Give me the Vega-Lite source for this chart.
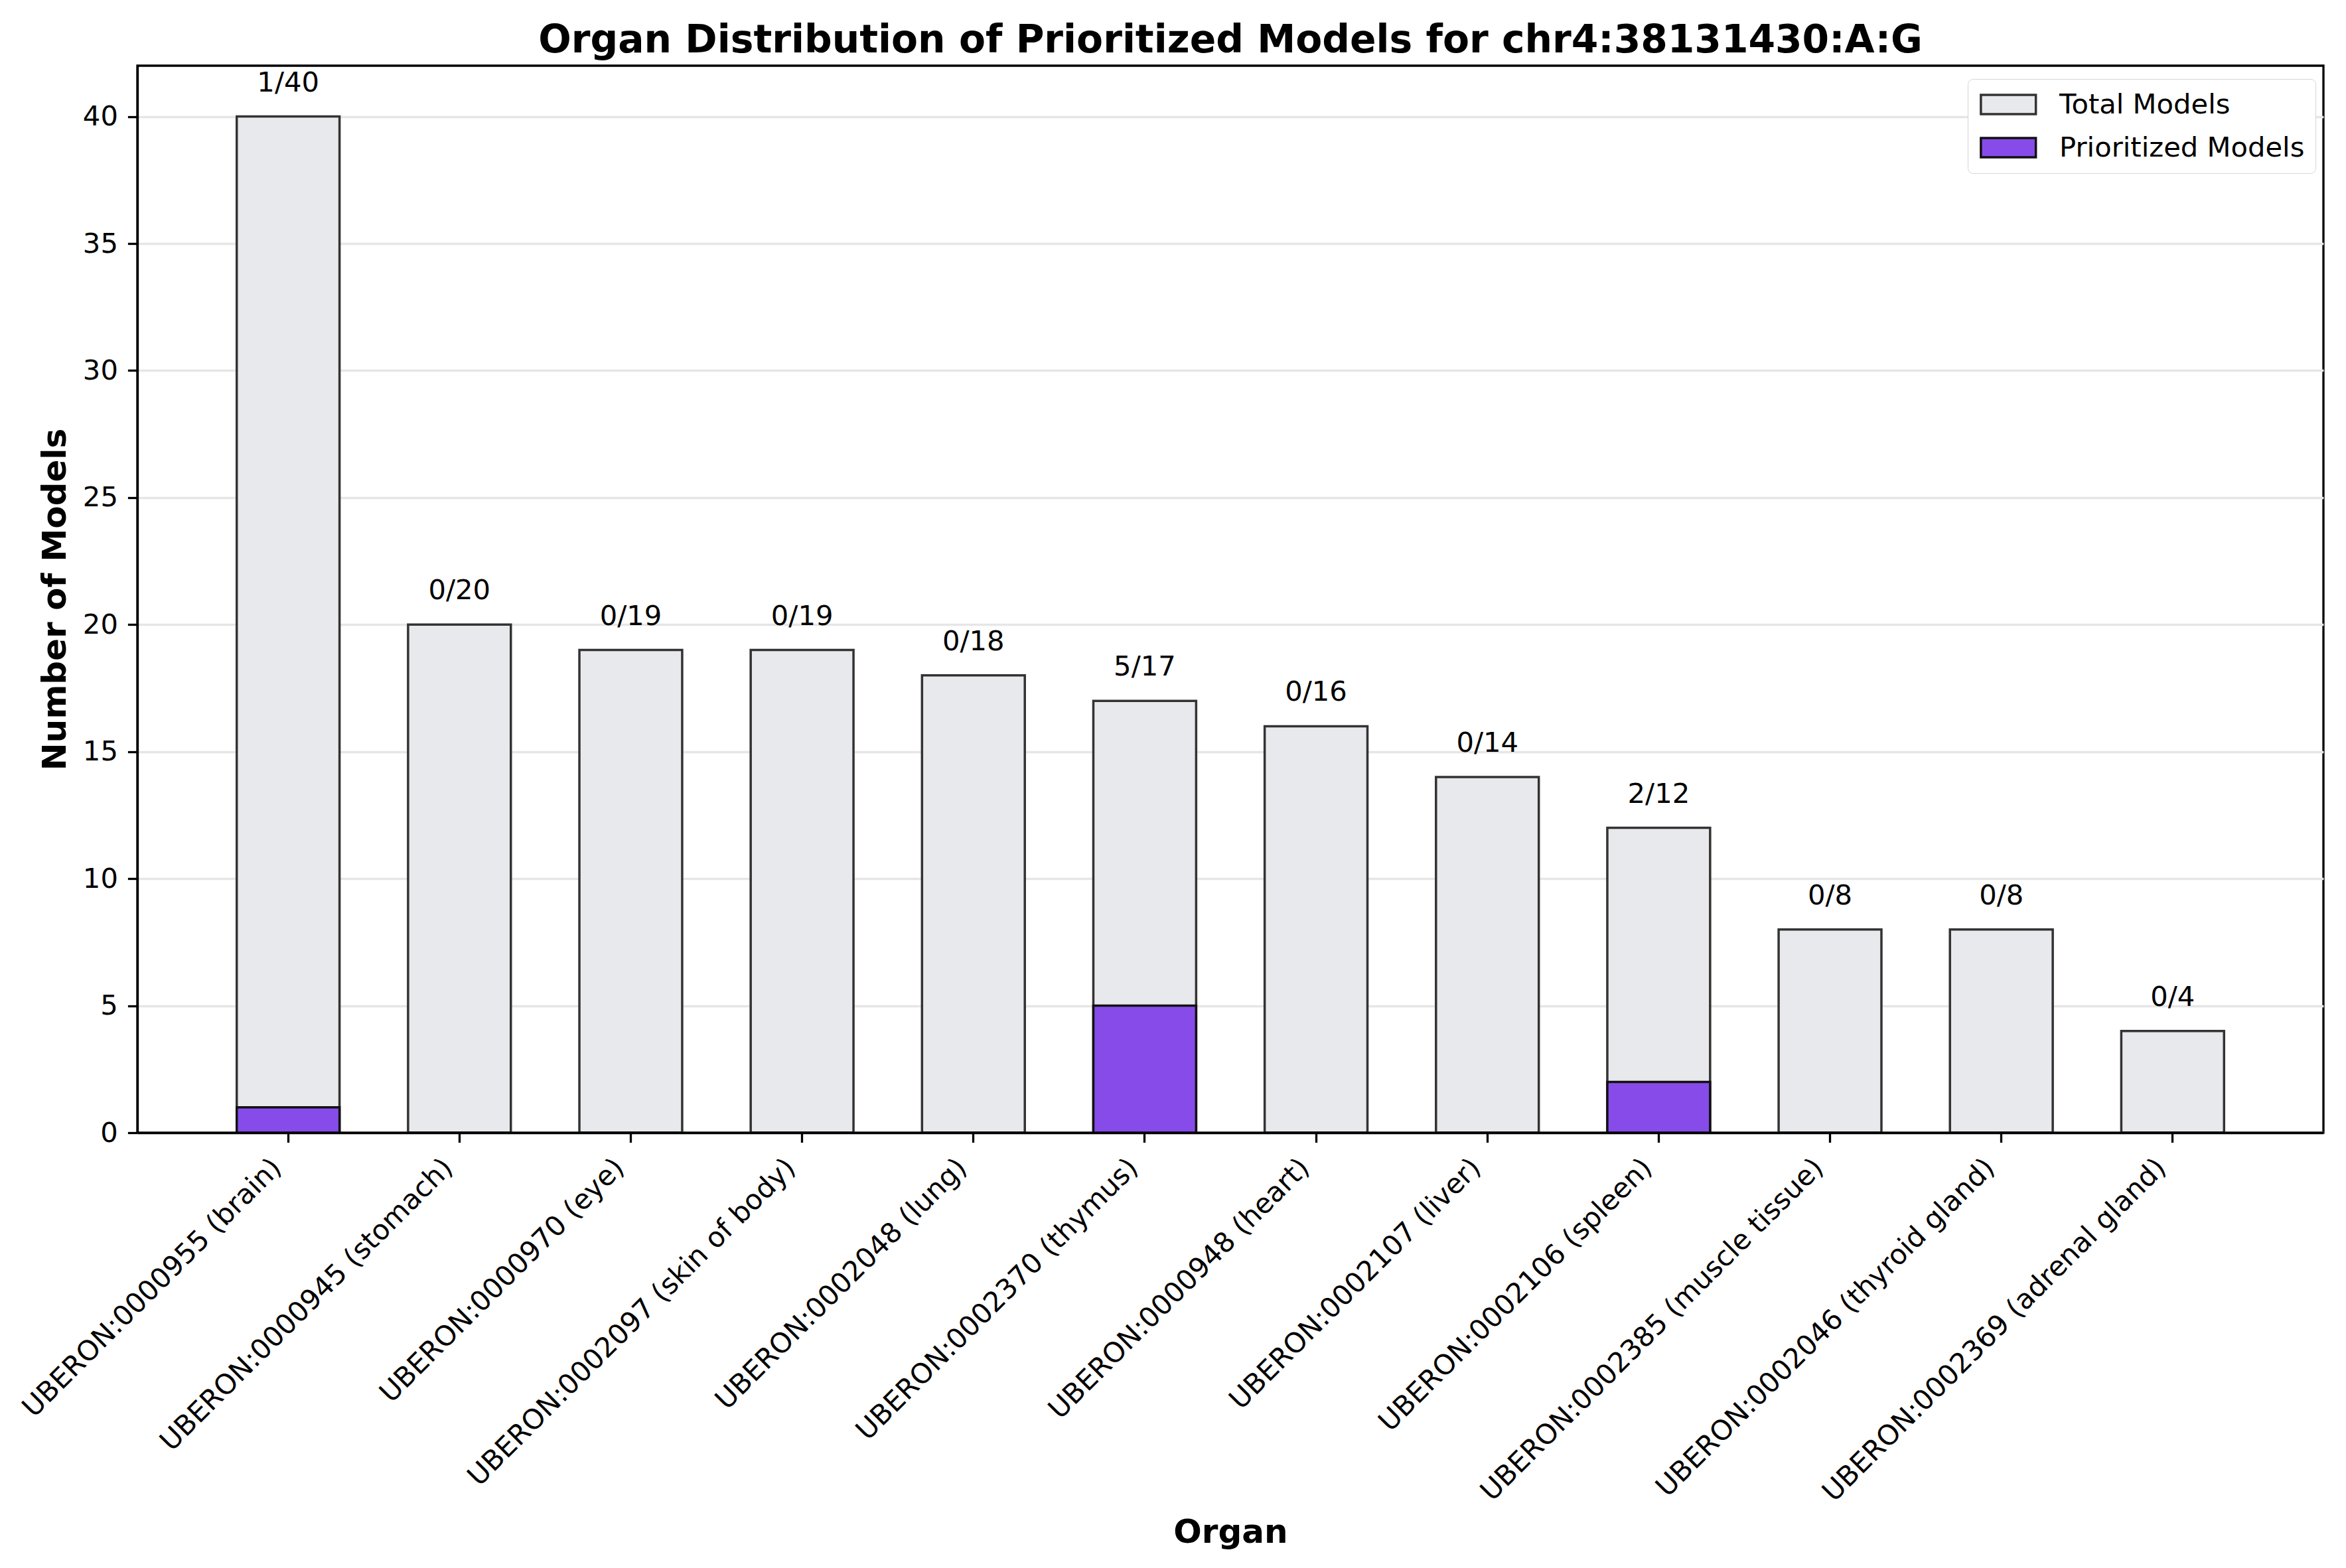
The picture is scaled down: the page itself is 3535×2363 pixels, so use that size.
{
  "$schema": "https://vega.github.io/schema/vega-lite/v6.json",
  "width": 3294,
  "height": 1608,
  "autosize": {"type": "none"},
  "padding": {"left": 207, "top": 99, "right": 34, "bottom": 656},
  "background": "white",
  "title": {
    "text": "Organ Distribution of Prioritized Models for chr4:38131430:A:G",
    "fontSize": 58.3,
    "fontWeight": "bold",
    "font": "DejaVu Sans",
    "color": "black",
    "anchor": "middle",
    "frame": "group",
    "baseline": "alphabetic",
    "offset": 13,
    "dy": 51
  },
  "config": {
    "font": "DejaVu Sans",
    "view": {"stroke": "black", "strokeWidth": 3.3},
    "axis": {
      "labelFont": "DejaVu Sans",
      "titleFont": "DejaVu Sans",
      "labelColor": "black",
      "titleColor": "black",
      "domainColor": "black",
      "tickColor": "black"
    },
    "legend": {
      "symbolType": "M-0.9,-0.7H3.1V0.7H-0.9Z",
      "symbolSize": 1714,
      "symbolStrokeWidth": 3.5,
      "symbolOpacity": 1,
      "labelFontSize": 41.7,
      "labelFont": "DejaVu Sans",
      "labelColor": "black",
      "labelOffset": 77,
      "labelLimit": 2000,
      "rowPadding": 20,
      "padding": 16,
      "fillColor": "white",
      "strokeColor": "#d5d5d5",
      "cornerRadius": 8
    }
  },
  "data": {
    "values": [
      {"organ": "UBERON:0000955 (brain)", "total": 40, "prioritized": 1, "label": "1/40"},
      {"organ": "UBERON:0000945 (stomach)", "total": 20, "prioritized": 0, "label": "0/20"},
      {"organ": "UBERON:0000970 (eye)", "total": 19, "prioritized": 0, "label": "0/19"},
      {"organ": "UBERON:0002097 (skin of body)", "total": 19, "prioritized": 0, "label": "0/19"},
      {"organ": "UBERON:0002048 (lung)", "total": 18, "prioritized": 0, "label": "0/18"},
      {"organ": "UBERON:0002370 (thymus)", "total": 17, "prioritized": 5, "label": "5/17"},
      {"organ": "UBERON:0000948 (heart)", "total": 16, "prioritized": 0, "label": "0/16"},
      {"organ": "UBERON:0002107 (liver)", "total": 14, "prioritized": 0, "label": "0/14"},
      {"organ": "UBERON:0002106 (spleen)", "total": 12, "prioritized": 2, "label": "2/12"},
      {"organ": "UBERON:0002385 (muscle tissue)", "total": 8, "prioritized": 0, "label": "0/8"},
      {"organ": "UBERON:0002046 (thyroid gland)", "total": 8, "prioritized": 0, "label": "0/8"},
      {"organ": "UBERON:0002369 (adrenal gland)", "total": 4, "prioritized": 0, "label": "0/4"}
    ]
  },
  "encoding": {
    "x": {
      "field": "organ",
      "type": "nominal",
      "sort": null,
      "scale": {"paddingInner": 0.4, "paddingOuter": 0.58},
      "axis": {
        "title": "Organ",
        "titleFontSize": 50,
        "titleFontWeight": "bold",
        "titleY": 617,
        "titleBaseline": "alphabetic",
        "labelAngle": -45,
        "labelAlign": "right",
        "labelBaseline": "middle",
        "labelOffset": -17,
        "labelPadding": 31,
        "labelFontSize": 41.7,
        "labelLimit": 3000,
        "labelOverlap": false,
        "labelFlush": false,
        "tickSize": 14.6,
        "tickWidth": 3.3,
        "domainWidth": 3.3,
        "grid": false,
        "zindex": 1
      }
    }
  },
  "layer": [
    {
      "mark": {"type": "bar", "strokeWidth": 3.5, "opacity": 1},
      "encoding": {
        "y": {
          "field": "total",
          "type": "quantitative",
          "scale": {"domain": [0, 42], "nice": false, "zero": true},
          "axis": {
            "values": [0, 5, 10, 15, 20, 25, 30, 35, 40],
            "title": "Number of Models",
            "titleFontSize": 50,
            "titleFontWeight": "bold",
            "titleX": -109,
            "titleY": 804,
            "titleAngle": 270,
            "titleAlign": "center",
            "titleBaseline": "alphabetic",
            "labelFontSize": 41.7,
            "labelPadding": 15,
            "tickSize": 14.6,
            "tickWidth": 3.3,
            "domainWidth": 3.3,
            "grid": true,
            "gridColor": "#e6e6e6",
            "gridWidth": 3.3,
            "zindex": 0
          }
        },
        "color": {
          "datum": "Total Models",
          "type": "nominal",
          "scale": {"domain": ["Total Models", "Prioritized Models"], "range": ["#e8e9ec", "#874bea"]},
          "legend": {"title": null, "orient": "none", "legendX": 2758, "legendY": 20}
        },
        "stroke": {
          "datum": "Total Models",
          "type": "nominal",
          "scale": {"domain": ["Total Models", "Prioritized Models"], "range": ["#333333", "#111111"]},
          "legend": {"title": null, "orient": "none", "legendX": 2758, "legendY": 20}
        }
      }
    },
    {
      "mark": {"type": "bar", "strokeWidth": 3.5, "opacity": 1},
      "encoding": {
        "y": {"field": "prioritized", "type": "quantitative"},
        "color": {"datum": "Prioritized Models", "type": "nominal"},
        "stroke": {"datum": "Prioritized Models", "type": "nominal"}
      }
    },
    {
      "mark": {"type": "text", "fontSize": 41.7, "font": "DejaVu Sans", "color": "black", "align": "center", "baseline": "alphabetic", "dy": -38},
      "encoding": {
        "y": {"field": "total", "type": "quantitative"},
        "text": {"field": "label", "type": "nominal"}
      }
    }
  ]
}
